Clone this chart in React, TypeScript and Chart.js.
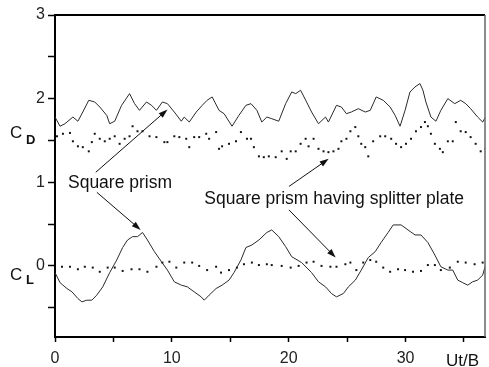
import React, { useEffect, useRef } from "react";
import { Chart, registerables } from "chart.js";

Chart.register(...registerables);

// ---- data ----
const cdSolidX = [0,0.43,0.85,1.53,1.96,2.38,2.89,3.40,3.83,4.43,4.68,5.11,5.70,6.38,6.81,7.23,7.83,8.26,8.68,9.19,9.62,10.21,10.81,11.06,11.49,12.09,12.60,13.02,13.45,14.04,14.47,15.15,15.74,16.34,16.77,17.28,17.70,18.13,18.55,19.15,19.74,20.26,20.60,21.02,21.53,21.96,22.55,23.15,23.40,24.09,24.51,24.94,25.36,25.96,26.55,26.98,27.49,28.09,28.68,29.11,29.53,29.96,30.38,30.81,31.23,31.49,31.74,32.17,32.60,33.02,33.62,34.21,34.72,35.15,35.57,36.17,36.60,36.85];
const cdSolidY = [1.78,1.67,1.70,1.78,1.73,1.84,1.98,1.96,1.90,1.80,1.70,1.73,1.92,2.06,1.94,1.86,1.96,1.92,1.86,1.96,1.94,1.84,1.73,1.78,1.72,1.84,1.92,1.98,2.02,1.86,1.82,1.67,1.80,1.92,1.94,1.86,1.72,1.78,1.76,1.73,1.94,2.08,2.06,2.10,1.96,1.84,1.70,1.78,1.72,1.92,1.90,1.82,1.84,1.88,1.84,1.86,2.02,1.98,1.90,1.80,1.67,1.86,2.08,2.14,2.18,2.10,1.96,1.78,1.73,1.86,2.00,1.94,1.98,1.94,1.88,1.78,1.72,1.78];

const cdPlateX = [0.17,0.68,1.28,1.53,1.96,2.38,2.89,3.15,3.40,3.83,4.26,4.68,5.11,5.53,5.96,6.38,6.64,7.06,7.49,8.09,8.68,9.36,9.62,10.21,10.64,11.23,11.49,11.91,12.34,12.94,13.19,13.79,14.04,14.30,14.89,15.49,15.91,16.43,16.77,17.02,17.45,17.87,18.30,18.89,19.40,19.83,20.17,20.60,21.02,21.45,21.70,22.13,22.55,22.98,23.40,23.83,24.26,24.51,24.94,25.28,25.70,25.96,26.21,26.55,26.81,27.23,27.83,28.26,28.77,29.19,29.62,30.04,30.47,30.89,31.32,31.66,31.91,32.17,32.51,32.94,33.19,33.62,34.04,34.30,34.72,35.15,35.57,36.00,36.43,36.85];
const cdPlateY = [1.55,1.58,1.59,1.49,1.43,1.42,1.37,1.48,1.58,1.52,1.49,1.52,1.55,1.46,1.52,1.55,1.67,1.61,1.61,1.55,1.54,1.48,1.48,1.55,1.54,1.52,1.42,1.54,1.54,1.58,1.52,1.60,1.40,1.43,1.46,1.49,1.60,1.52,1.52,1.42,1.31,1.30,1.31,1.30,1.37,1.28,1.37,1.37,1.46,1.52,1.43,1.52,1.40,1.37,1.36,1.37,1.40,1.49,1.52,1.61,1.66,1.55,1.46,1.42,1.31,1.49,1.55,1.55,1.52,1.46,1.42,1.46,1.52,1.61,1.66,1.72,1.67,1.58,1.46,1.40,1.36,1.49,1.49,1.72,1.61,1.60,1.54,1.46,1.37,1.40];

const clSolidX = [0,0.43,0.68,1.02,1.45,1.96,2.30,2.72,3.15,3.57,4.09,4.68,5.28,5.79,6.21,6.64,7.06,7.49,7.91,8.51,9.11,9.62,10.21,10.81,11.32,11.91,12.51,12.77,13.19,13.79,14.30,14.89,15.32,15.91,16.34,16.85,17.45,18.13,18.55,19.15,19.74,20.26,21.11,21.96,22.55,23.15,23.66,24.09,24.68,25.11,25.70,26.21,26.81,27.40,27.91,28.51,28.94,29.62,30.21,30.81,31.32,31.91,32.51,33.02,33.62,34.04,34.47,34.89,35.32,35.74,36.17,36.60,36.85];
const clSolidY = [-0.08,-0.20,-0.23,-0.27,-0.31,-0.39,-0.43,-0.41,-0.41,-0.35,-0.25,-0.08,0.07,0.22,0.31,0.35,0.35,0.40,0.31,0.17,0.05,-0.05,-0.19,-0.23,-0.25,-0.31,-0.37,-0.41,-0.35,-0.27,-0.23,-0.17,-0.08,0.07,0.22,0.25,0.31,0.40,0.43,0.35,0.23,0.11,0.04,-0.08,-0.19,-0.25,-0.33,-0.37,-0.33,-0.25,-0.17,-0.05,0.10,0.17,0.28,0.40,0.49,0.49,0.43,0.37,0.37,0.28,0.13,-0.01,-0.05,-0.05,-0.17,-0.20,-0.23,-0.19,-0.17,-0.11,0.01];

const clPlateX = [0.60,1.28,1.96,2.55,3.23,3.83,4.51,5.11,5.79,6.55,7.23,7.91,8.68,9.19,9.79,10.38,11.06,11.74,12.34,13.02,13.79,14.21,14.89,15.57,16.17,16.85,17.45,18.13,18.55,19.40,20.17,20.85,21.53,22.13,22.81,23.57,24.09,24.85,25.28,25.79,26.38,26.98,27.49,28.09,28.68,29.36,29.96,30.64,31.32,31.91,32.51,33.02,33.79,34.47,35.15,35.91,36.60];
const clPlateY = [-0.01,-0.01,-0.04,-0.01,-0.02,-0.07,-0.02,-0.02,-0.06,-0.04,-0.04,-0.07,-0.01,0.04,0.05,-0.02,0.04,0.04,0,-0.05,-0.01,-0.08,-0.05,-0.02,0.02,0.04,0.01,0.02,0.01,0,-0.02,0,0.04,0.05,0,-0.01,-0.01,0.02,0.04,-0.05,0.04,0.07,0.05,-0.02,-0.07,-0.04,-0.05,-0.07,-0.06,0.01,0.01,-0.05,-0.02,0.05,0.04,0.02,0.04];

const xTicks = [0, 5, 10, 15, 20, 25, 30, 35];
const yTicks = [-0.5, 0, 0.5, 1, 1.5, 2, 2.5, 3];
const xLabelTicks = [0, 10, 20, 30];
const yLabelTicks = [0, 1, 2, 3];
const X_MIN = 0, X_MAX = 36.8, Y_MIN = -0.85, Y_MAX = 3;

const noteTexts = ["Square prism", "Square prism having splitter plate"];
const noteX = [1.11, 12.78];
const noteY = [0.93, 0.74];
// arrows in data coordinates: [x0, y0, x1, y1]
const arrows = [
  [3.49, 1.12, 9.63, 1.87],
  [3.58, 0.88, 7.33, 0.43],
  [20.02, 0.95, 23.42, 1.28],
  [20.02, 0.67, 24.02, 0.10],
];

const pts = (xs: number[], ys: number[]) => xs.map((x, i) => ({ x, y: ys[i] }));

const FONT = "Arial, 'Liberation Sans', sans-serif";

export default function App() {
  const ref = useRef<HTMLCanvasElement | null>(null);
  useEffect(() => {
    const canvas = ref.current!;
    const decor = {
      id: "decor",
      afterDraw(chart: any) {
        const { ctx, chartArea: a, scales } = chart;
        const xs = scales.x, ys = scales.y;
        ctx.save();
        // frame top & right
        ctx.strokeStyle = "#000";
        ctx.lineWidth = 2;
        ctx.beginPath();
        ctx.moveTo(a.left - 1, a.top);
        ctx.lineTo(a.right, a.top);
        ctx.stroke();
        ctx.strokeStyle = "#666";
        ctx.lineWidth = 1.5;
        ctx.beginPath();
        ctx.moveTo(a.right, a.top);
        ctx.lineTo(a.right, a.bottom);
        ctx.stroke();
        // axis titles
        ctx.fillStyle = "#111";
        ctx.textBaseline = "alphabetic";
        ctx.textAlign = "left";
        ctx.font = `17px ${FONT}`;
        ctx.fillText("C", a.left - 45, 138);
        ctx.fillText("C", a.left - 45, 280);
        ctx.font = `bold 13px ${FONT}`;
        ctx.fillText("D", a.left - 29, 144);
        ctx.fillText("L", a.left - 29, 284);
        ctx.font = `17px ${FONT}`;
        ctx.fillText("Ut/B", a.right - 39, 366);
        // notes
        ctx.font = `17.5px ${FONT}`;
        noteTexts.forEach((t, i) => {
          ctx.fillText(t, xs.getPixelForValue(noteX[i]), ys.getPixelForValue(noteY[i]));
        });
        // arrows
        ctx.strokeStyle = "#111";
        ctx.fillStyle = "#111";
        ctx.lineWidth = 1;
        arrows.forEach(([x0, y0, x1, y1]) => {
          const p0x = xs.getPixelForValue(x0), p0y = ys.getPixelForValue(y0);
          const p1x = xs.getPixelForValue(x1), p1y = ys.getPixelForValue(y1);
          const ang = Math.atan2(p1y - p0y, p1x - p0x);
          const L = 9, W = 3;
          ctx.beginPath();
          ctx.moveTo(p0x, p0y);
          ctx.lineTo(p1x - Math.cos(ang) * L * 0.8, p1y - Math.sin(ang) * L * 0.8);
          ctx.stroke();
          ctx.beginPath();
          ctx.moveTo(p1x, p1y);
          ctx.lineTo(p1x - Math.cos(ang) * L - Math.sin(ang) * W, p1y - Math.sin(ang) * L + Math.cos(ang) * W);
          ctx.lineTo(p1x - Math.cos(ang) * L + Math.sin(ang) * W, p1y - Math.sin(ang) * L - Math.cos(ang) * W);
          ctx.closePath();
          ctx.fill();
        });
        ctx.restore();
      },
    };
    const solid = (data: any) => ({
      data, showLine: true, borderColor: "#2a2a2a", borderWidth: 1, pointRadius: 0, tension: 0, fill: false,
    });
    const dotted = (data: any) => ({
      data, showLine: false, pointRadius: 1.4, pointBorderWidth: 0, backgroundColor: "#111",
      borderColor: "#111", pointStyle: "rect",
    });
    const chart = new Chart(canvas, {
      type: "scatter",
      data: {
        datasets: [
          solid(pts(cdSolidX, cdSolidY)),
          dotted(pts(cdPlateX, cdPlateY)),
          solid(pts(clSolidX, clSolidY)),
          dotted(pts(clPlateX, clPlateY)),
        ] as any,
      },
      options: {
        animation: false,
        responsive: false,
        devicePixelRatio: 1,
        layout: { padding: { top: 15, right: 2, left: 0, bottom: 0 } },
        plugins: { legend: { display: false }, tooltip: { enabled: false } },
        scales: {
          x: {
            type: "linear", min: X_MIN, max: X_MAX,
            afterBuildTicks: (s: any) => { s.ticks = xTicks.map((v) => ({ value: v })); },
            afterFit: (s: any) => { s.height = 30; },
            ticks: {
              autoSkip: false, maxRotation: 0, padding: 7, color: "#222",
              font: { size: 16, family: FONT },
              callback: (v: any) => (xLabelTicks.includes(Number(v)) ? String(v) : ""),
            },
            grid: { drawOnChartArea: false, drawTicks: true, tickLength: 5, tickColor: "#000", tickWidth: 1.5 },
            border: { display: true, color: "#000", width: 2 },
          },
          y: {
            type: "linear", min: Y_MIN, max: Y_MAX,
            afterBuildTicks: (s: any) => { s.ticks = yTicks.map((v) => ({ value: v })); },
            afterFit: (s: any) => { s.width = 55; },
            ticks: {
              autoSkip: false, padding: 3, color: "#222",
              font: { size: 16, family: FONT },
              callback: (v: any) => (yLabelTicks.includes(Number(v)) ? String(v) : ""),
            },
            grid: { drawOnChartArea: false, drawTicks: true, tickLength: 7, tickColor: "#000", tickWidth: 1.5 },
            border: { display: true, color: "#000", width: 2 },
          },
        },
      } as any,
      plugins: [decor],
    });
    return () => chart.destroy();
  }, []);
  return (
    <div style={{ position: "absolute", left: 0, top: 0, width: 489, height: 367, background: "#fff" }}>
      <canvas ref={ref} width={489} height={367} style={{ width: 489, height: 367 }} />
    </div>
  );
}
